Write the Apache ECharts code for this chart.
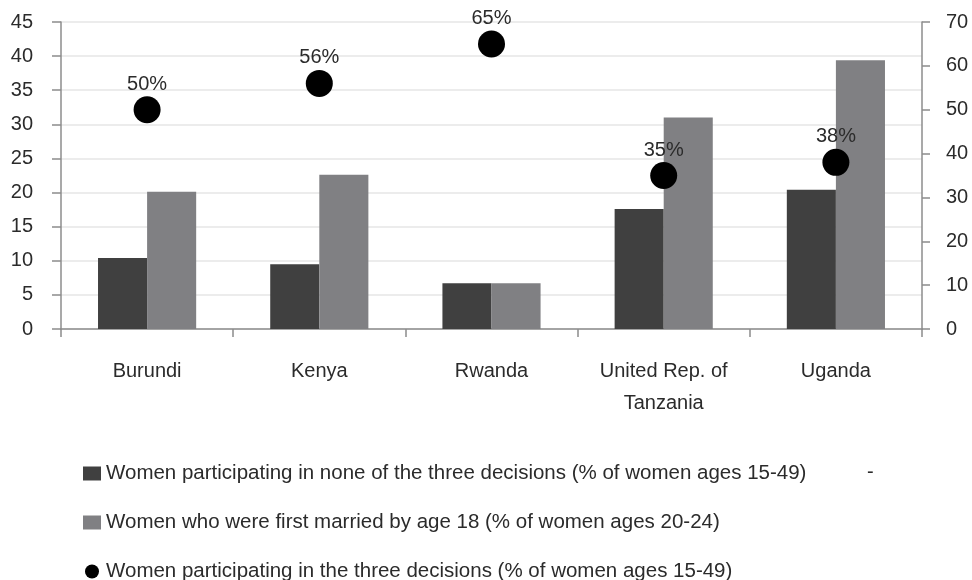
<!DOCTYPE html>
<html>
<head>
<meta charset="utf-8">
<script src="https://cdn.jsdelivr.net/npm/echarts@6/dist/echarts.min.js"></script>
<style>html,body{margin:0;padding:0;background:#fff}#c{width:972px;height:580px}</style>
</head>
<body>
<div id="c"></div>
<script>
var categories = ['Burundi', 'Kenya', 'Rwanda', 'United Rep. of\nTanzania', 'Uganda'];
var noneDecisions = [10.4, 9.5, 6.7, 17.6, 20.4];
var marriedBy18 = [20.1, 22.6, 6.7, 31.0, 39.4];
var threeDecisions = [50, 56, 65, 35, 38];
var leftTicks = [0, 45, 5];
var rightTicks = [0, 70, 10];

var names = [
  'Women participating in none of the three decisions (% of women ages 15-49)',
  'Women who were first married by age 18 (% of women ages 20-24)',
  'Women participating in the three decisions (% of women ages 15-49)'
];
var FONT = 'Liberation Sans';
var TXT = '#2b2b2b';
var chart = echarts.init(document.getElementById('c'));
chart.setOption({
  animation: false,
  textStyle: { fontFamily: FONT, color: TXT },
  grid: { left: 61, right: 50, top: 22, bottom: 251, containLabel: false },
  legend: {
    orient: 'vertical', left: 83, top: 463, padding: 0, height: 140,
    itemWidth: 18, itemHeight: 14, itemGap: 28,
    textStyle: { fontFamily: FONT, fontSize: 20.5, color: TXT },
    data: [
      { name: names[0], icon: 'rect' },
      { name: names[1], icon: 'rect' },
      { name: names[2], icon: 'circle', itemStyle: { color: '#000' } }
    ]
  },
  graphic: [{ type: 'text', left: 867, top: 462, style: { text: '-', fontFamily: FONT, fontSize: 20, fill: TXT } }],
  xAxis: {
    type: 'category', data: categories,
    axisLine: { lineStyle: { color: '#8c8c8c', width: 1.5 } },
    axisTick: { show: true, length: 8, lineStyle: { color: '#8c8c8c', width: 1.5 } },
    axisLabel: { fontSize: 20, color: TXT, lineHeight: 32, margin: 26, fontFamily: FONT, interval: 0 }
  },
  yAxis: [{
    type: 'value', min: leftTicks[0], max: leftTicks[1], interval: leftTicks[2],
    axisLine: { show: true, lineStyle: { color: '#8c8c8c', width: 1.5 } },
    axisTick: { show: true, length: 9, lineStyle: { color: '#8c8c8c', width: 1.5 } },
    axisLabel: { fontSize: 20, color: TXT, margin: 28, fontFamily: FONT },
    splitLine: { show: true, lineStyle: { color: '#e6e6e6', width: 1.5 } }
  }, {
    type: 'value', min: rightTicks[0], max: rightTicks[1], interval: rightTicks[2], position: 'right',
    axisLine: { show: true, lineStyle: { color: '#8c8c8c', width: 1.5 } },
    axisTick: { show: true, length: 8, lineStyle: { color: '#8c8c8c', width: 1.5 } },
    axisLabel: { fontSize: 20, color: TXT, margin: 24, fontFamily: FONT },
    splitLine: { show: false }
  }],
  series: [{
    name: names[0], type: 'bar', data: noneDecisions, yAxisIndex: 0,
    barGap: '0%', barCategoryGap: '43%',
    itemStyle: { color: '#404040' }
  }, {
    name: names[1], type: 'bar', data: marriedBy18, yAxisIndex: 0,
    barGap: '0%', barCategoryGap: '43%',
    itemStyle: { color: '#808083' }
  }, {
    name: names[2], type: 'scatter', data: threeDecisions, yAxisIndex: 1,
    symbol: 'circle', symbolSize: 27, z: 5,
    itemStyle: { color: '#000', opacity: 1 },
    label: { show: true, position: 'top', distance: 2, fontSize: 20, color: TXT, fontFamily: FONT,
      formatter: function (p) { return p.value + '%'; } }
  }]
});
</script>
</body>
</html>
